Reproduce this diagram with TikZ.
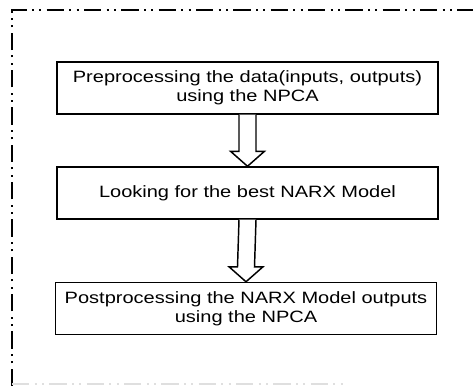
\documentclass[tikz,border=0pt]{standalone}
\usepackage{fontspec}
\setmainfont{Liberation Sans}[FakeStretch=1.22]
\usetikzlibrary{calc}

\begin{document}
\begin{tikzpicture}[x=0.75pt,y=-0.75pt,line width=1.1pt,
        frame line/.style={line width=1.6pt,dash pattern=on 13pt off 4pt on 1.5pt off 4pt on 1.5pt off 4pt},
        step box/.style={rectangle,draw,minimum width=286pt,minimum height=39pt,inner sep=0pt,
            align=center,font=\fontsize{12.3}{14.5}\selectfont},
        block arrow/.style={draw,fill=white,line width=1.1pt,line join=miter}]
        \useasboundingbox (0,0) rectangle (473,386);
        % outer frame, open on the right
        \draw[frame line] (12,386) -- (12,10) -- (473,10);
        \draw[frame line,gray!25] (12,384) -- (345,384);
        % the three steps
        \node[step box] (pre) at (247.5,88) {Preprocessing the data(inputs, outputs)\\using the NPCA};
        \node[step box] (narx) at (247.5,193) {Looking for the best NARX Model};
        \node[step box] (post) at (246,308.5) {Postprocessing the NARX Model outputs\\using the NPCA};
        % hollow arrows between the steps
        \draw[block arrow] ($(pre.south)+(-8.5,0)$) -- ($(narx.north)+(-8.5,-15)$) -- ++(-8.5,0)
            -- (narx.north) -- ++(17,-15) -- ++(-8.5,0) -- ($(pre.south)+(8.5,0)$);
        \draw[block arrow] ($(narx.south)+(-8.5,0)$) -- ($(post.north)+(-8.5,-15)$) -- ++(-8.5,0)
            -- (post.north) -- ++(17,-15) -- ++(-8.5,0) -- ($(narx.south)+(8.5,0)$);
\end{tikzpicture}
\end{document}
